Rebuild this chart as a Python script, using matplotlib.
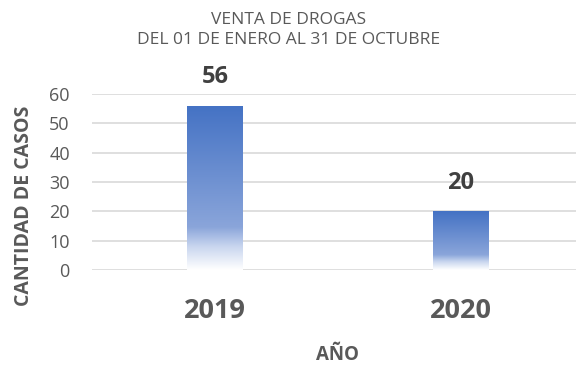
import numpy as np
import matplotlib
matplotlib.use("Agg")
import matplotlib.pyplot as plt
from matplotlib.colors import LinearSegmentedColormap
from matplotlib.patches import Rectangle

years = ["2019", "2020"]
cases = [56, 20]
y_ticks = [0, 10, 20, 30, 40, 50, 60]
title = "VENTA DE DROGAS\nDEL 01 DE ENERO AL 31 DE OCTUBRE"
x_label = "AÑO"
y_label = "CANTIDAD DE CASOS"

plt.rcParams["font.family"] = ["Open Sans", "DejaVu Sans"]
text_grey = "#595959"

fig = plt.figure(figsize=(5.76, 3.65), dpi=100)
ax = fig.add_axes([92 / 576, 1 - 270 / 365, (576 - 92) / 576, 176 / 365])

# vertical gradient: blue at the top, fading to white at the base
grad = LinearSegmentedColormap.from_list(
    "bar_fade",
    [(0.0, "#4472C4"), (0.74, "#8AA5DA"), (0.86, "#C9D6EF"), (1.0, "#FFFFFF")],
)
gimg = np.linspace(0, 1, 256).reshape(-1, 1)

width = 0.224
x = np.arange(len(years))
for xi, v in zip(x, cases):
    rect = Rectangle((xi - width / 2, 0), width, v, facecolor="none", edgecolor="none")
    ax.add_patch(rect)
    im = ax.imshow(gimg, cmap=grad, aspect="auto", origin="upper",
                   extent=(xi - width / 2, xi + width / 2, 0, v), zorder=2,
                   interpolation="bilinear")
    im.set_clip_path(rect)
    ax.text(xi, v + 5.6, f"{v}", ha="center", va="bottom", fontsize=17,
            fontweight="bold", color="#404040")

ax.set_xlim(-0.5, 1.47)
ax.set_ylim(0, 60)
ax.set_yticks(y_ticks)
ax.set_yticklabels([str(t) for t in y_ticks], fontsize=13, color=text_grey)
ax.set_xticks(x)
ax.set_xticklabels(years, fontsize=19.5, fontweight="bold", color=text_grey)
ax.tick_params(axis="y", length=0, pad=16)
ax.tick_params(axis="x", length=0, pad=20)
ax.grid(axis="y", color="#D9D9D9", linewidth=1.2, zorder=0)
ax.set_axisbelow(True)
for s in ax.spines.values():
    s.set_visible(False)

fig.text(337 / 576, 1 - 355 / 365, x_label, ha="center", va="center",
         fontsize=13.5, fontweight="bold", color=text_grey)
fig.text(24 / 576, 1 - 206 / 365, y_label, ha="center", va="center", rotation=90,
         fontsize=14, fontweight="bold", color=text_grey)
fig.text(289 / 576, 1 - 30 / 365, title, ha="center", va="center",
         fontsize=12.5, color=text_grey, linespacing=1.4)

fig.savefig("out.png", dpi=100)
